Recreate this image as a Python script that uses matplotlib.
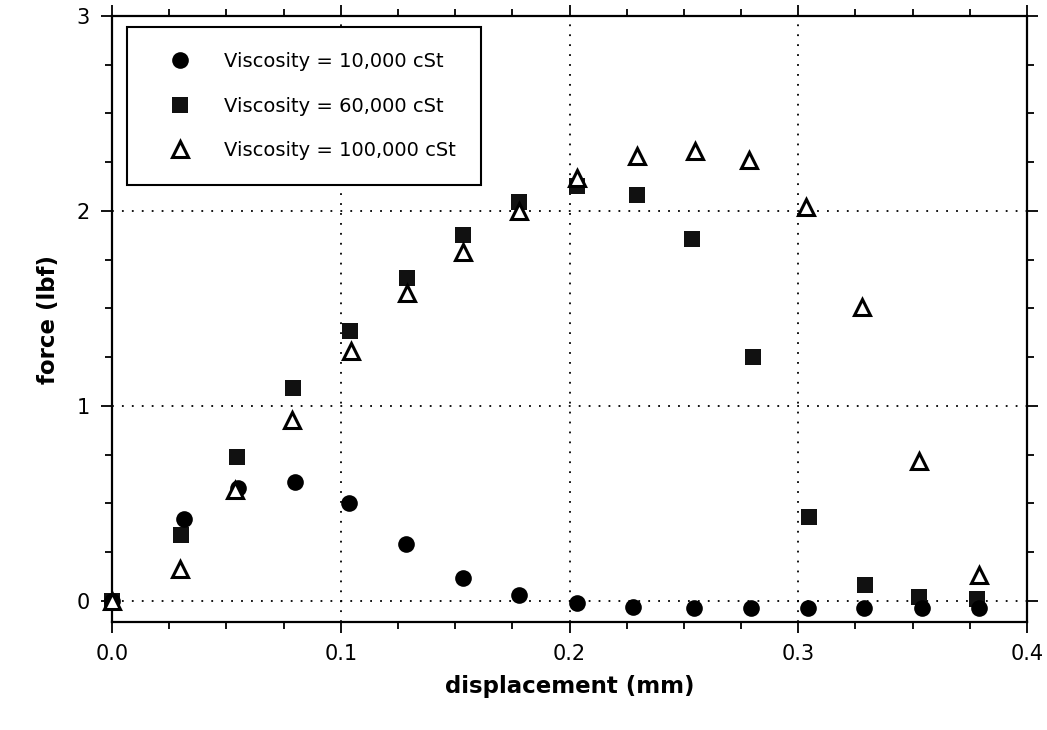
import matplotlib
matplotlib.use("Agg")
import matplotlib.pyplot as plt
from matplotlib.ticker import MultipleLocator, FormatStrFormatter

plt.rcParams['font.family'] = ['DejaVu Sans']

# data
disp_10k = [0.0, 0.0315, 0.055, 0.080, 0.1036, 0.1285, 0.1535, 0.178, 0.2033,
            0.2278, 0.2544, 0.2793, 0.3043, 0.3288, 0.354, 0.379]
force_10k = [0.0, 0.42, 0.58, 0.61, 0.50, 0.294, 0.118, 0.031, -0.01,
             -0.03, -0.036, -0.036, -0.036, -0.036, -0.036, -0.036]

disp_60k = [0.0, 0.030, 0.0546, 0.079, 0.104, 0.129, 0.1535, 0.178, 0.2033,
            0.2295, 0.2535, 0.280, 0.3047, 0.329, 0.353, 0.378]
force_60k = [0.0, 0.34, 0.74, 1.09, 1.387, 1.655, 1.876, 2.046, 2.127,
             2.08, 1.855, 1.25, 0.433, 0.082, 0.021, 0.01]

disp_100k = [0.0, 0.0297, 0.0538, 0.0787, 0.1045, 0.129, 0.1535, 0.178, 0.2033,
             0.2295, 0.255, 0.2785, 0.3034, 0.328, 0.353, 0.379]
force_100k = [0.0, 0.165, 0.57, 0.93, 1.28, 1.58, 1.79, 2.0, 2.17,
              2.28, 2.31, 2.26, 2.02, 1.505, 0.716, 0.134]

labels = ['Viscosity = 10,000 cSt', 'Viscosity = 60,000 cSt', 'Viscosity = 100,000 cSt']

fig = plt.figure(figsize=(10.47, 7.30), dpi=100)
ax = fig.add_axes([112 / 1047, 1 - 622 / 730, 915 / 1047, 606 / 730])

ax.plot(disp_10k, force_10k, 'o', color='black', ms=12, mew=0, zorder=4,
        clip_on=False, label=labels[0])
ax.plot(disp_60k, force_60k, 's', color='#111111', ms=11, mew=0, zorder=3,
        clip_on=False, label=labels[1])
ax.plot(disp_100k, force_100k, '^', mfc='white', mec='black', ms=11, mew=2.2, zorder=5,
        clip_on=False, label=labels[2])

ax.set_xlim(0, 0.4)
ax.set_ylim(-0.108, 3)
ax.xaxis.set_major_locator(MultipleLocator(0.1))
ax.xaxis.set_minor_locator(MultipleLocator(0.025))
ax.yaxis.set_major_locator(MultipleLocator(1))
ax.yaxis.set_minor_locator(MultipleLocator(0.25))
ax.xaxis.set_major_formatter(FormatStrFormatter('%.1f'))

ax.tick_params(which='both', direction='out', top=True, right=True,
               labelsize=15, width=1.3, pad=8)
ax.tick_params(which='major', length=8)
ax.tick_params(which='minor', length=5)
for s in ax.spines.values():
    s.set_linewidth(1.6)

ax.grid(True, which='major', color='black', linestyle=(0, (1, 4.5)), linewidth=1.3)

ax.set_xlabel('displacement (mm)', fontsize=16.5, fontweight='bold', labelpad=8)
ax.set_ylabel('force (lbf)', fontsize=16.5, fontweight='bold', labelpad=12)

leg = ax.legend(loc='upper left', bbox_to_anchor=(15 / 915, 1 - 11 / 606),
                borderaxespad=0, fontsize=14, frameon=True, fancybox=False,
                edgecolor='black', labelspacing=1.3, borderpad=1.3,
                handlelength=2.9, handletextpad=0.8, numpoints=1)
leg.get_frame().set_linewidth(1.5)
leg.get_frame().set_alpha(1)
leg.set_zorder(10)

fig.savefig('out.png', dpi=100)
